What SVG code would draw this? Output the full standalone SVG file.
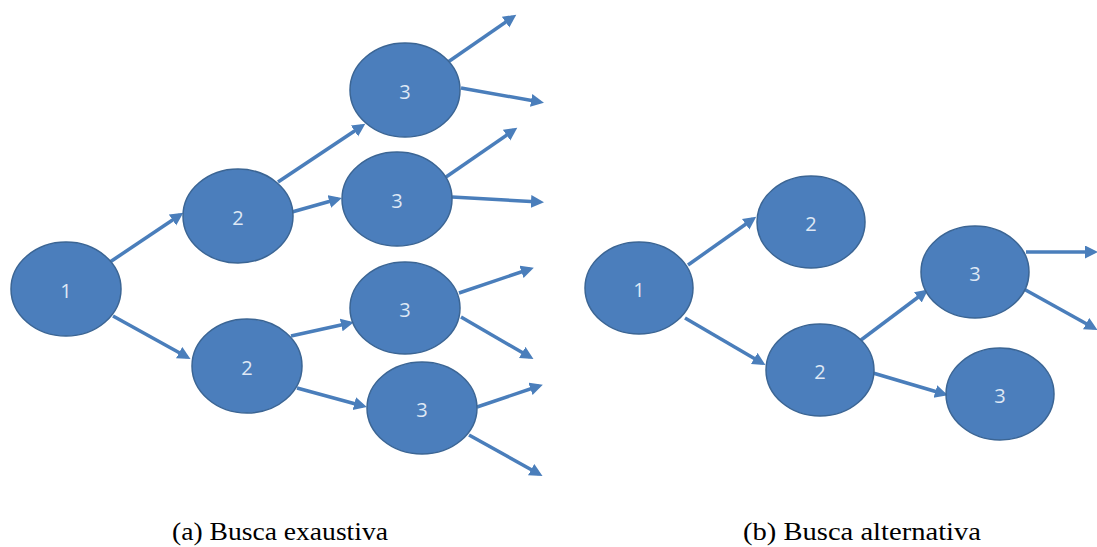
<svg xmlns="http://www.w3.org/2000/svg" width="1097" height="547" viewBox="0 0 1097 547">
<style>
.node ellipse{fill:#4b7ebc;stroke:#3b6594;stroke-width:1.5}
.node text{font-family:"Open Sans","Liberation Sans",sans-serif;font-size:20px;fill:#dfe8f5;text-anchor:middle;dominant-baseline:central}
.edges line{stroke:#4a7ebb;stroke-width:3.5;marker-end:url(#ah)}
.cap{font-family:"Liberation Serif",serif;font-size:26px;fill:#000;text-anchor:middle}
</style>
<defs>
<marker id="ah" markerUnits="userSpaceOnUse" markerWidth="14" markerHeight="14" refX="9" refY="6.5" orient="auto">
<path d="M0,0 L13,6.5 L0,13 z" fill="#4a7ebb"/>
</marker>
</defs>
<rect width="1097" height="547" fill="#fff"/>
<g class="edges">
<!-- (a) -->
<line x1="110" y1="262" x2="180" y2="215"/>
<line x1="113" y1="316" x2="187" y2="357"/>
<line x1="278" y1="182" x2="362" y2="126"/>
<line x1="292" y1="212" x2="338" y2="199"/>
<line x1="291" y1="336" x2="350" y2="323"/>
<line x1="297" y1="388" x2="363" y2="406"/>
<line x1="448" y1="62" x2="513" y2="17"/>
<line x1="461" y1="88" x2="540" y2="102"/>
<line x1="446" y1="177" x2="514" y2="130"/>
<line x1="452" y1="197" x2="540" y2="202"/>
<line x1="459" y1="293" x2="530" y2="269"/>
<line x1="461" y1="317" x2="530" y2="357"/>
<line x1="477" y1="407" x2="539" y2="386"/>
<line x1="469" y1="435" x2="539" y2="474"/>
<!-- (b) -->
<line x1="688" y1="265" x2="753" y2="219"/>
<line x1="685" y1="318" x2="762" y2="363"/>
<line x1="861" y1="340" x2="925" y2="292"/>
<line x1="873" y1="373" x2="944" y2="394"/>
<line x1="1026" y1="252" x2="1094" y2="252"/>
<line x1="1022" y1="288" x2="1094" y2="328"/>
</g>
<g id="a1" class="node"><ellipse cx="66" cy="289" rx="55" ry="47"/><text x="66" y="290">1</text></g>
<g id="a2top" class="node"><ellipse cx="238" cy="216" rx="55" ry="47"/><text x="238" y="217">2</text></g>
<g id="a2bot" class="node"><ellipse cx="247" cy="366" rx="55" ry="47"/><text x="247" y="367">2</text></g>
<g id="a3a" class="node"><ellipse cx="405" cy="90" rx="55" ry="47"/><text x="405" y="91">3</text></g>
<g id="a3b" class="node"><ellipse cx="397" cy="199" rx="55" ry="47"/><text x="397" y="200">3</text></g>
<g id="a3c" class="node"><ellipse cx="405" cy="308" rx="55" ry="46"/><text x="405" y="309">3</text></g>
<g id="a3d" class="node"><ellipse cx="422" cy="408" rx="55" ry="46"/><text x="422" y="409">3</text></g>
<g id="b1" class="node"><ellipse cx="639" cy="288" rx="54" ry="46"/><text x="639" y="289">1</text></g>
<g id="b2top" class="node"><ellipse cx="811" cy="222" rx="54" ry="46"/><text x="811" y="223">2</text></g>
<g id="b2bot" class="node"><ellipse cx="820" cy="370" rx="54" ry="46"/><text x="820" y="371">2</text></g>
<g id="b3top" class="node"><ellipse cx="975" cy="272" rx="54" ry="46"/><text x="975" y="273">3</text></g>
<g id="b3bot" class="node"><ellipse cx="1000" cy="394" rx="54" ry="46"/><text x="1000" y="395">3</text></g>
<text class="cap" x="280" y="540" textLength="216" lengthAdjust="spacingAndGlyphs">(a) Busca exaustiva</text>
<text class="cap" x="862" y="540" textLength="238" lengthAdjust="spacingAndGlyphs">(b) Busca alternativa</text>
</svg>
